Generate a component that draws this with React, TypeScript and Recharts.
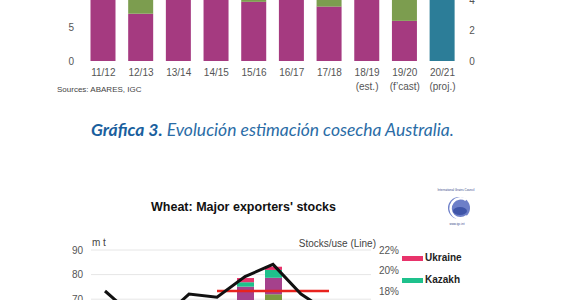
import { ComposedChart, Bar, Line, XAxis, YAxis, CartesianGrid } from 'recharts'

// Gráfica 3 – cosecha Australia (m t), top of the chart is cut off in the picture
const seasons    = ['11/12', '12/13', '13/14', '14/15', '15/16', '16/17', '17/18', '18/19', '19/20', '20/21']
const seasonNote = ['', '', '', '', '', '', '', '(est.)', '(f\u2019cast)', '(proj.)']
const ausMain    = [11.2, 6.95, 10.6, 9.0, 8.7, 12.4, 8.0, 10.2, 5.9, null]
const ausExtra   = [1.2, 3.0, 0.8, 0.9, 1.1, 1.6, 2.2, 0.9, 4.1, null]
const ausProj    = [null, null, null, null, null, null, null, null, null, 10.8]

// Wheat: Major exporters' stocks (bottom of the chart is cut off)
const years      = ['10/11', '11/12', '12/13', '13/14', '14/15', '15/16', '16/17', '17/18', '18/19', '19/20']
const eu         = [null, null, null, null, null, 62.0, 72.0, null, null, null]
const russia     = [null, null, null, null, null, 13.1, 6.7, null, null, null]
const kazakh     = [null, null, null, null, null, 1.8, 3.2, null, null, null]
const ukraine    = [null, null, null, null, null, 1.7, 1.3, null, null, null]
const stocksUse  = [18.0, 15.6, 15.2, 17.7, 17.4, 19.4, 20.6, 17.7, 15.9, 15.5]
const avgRatio   = [null, null, null, null, 18.0, 18.0, 18.0, 18.0, 18.0, null]
const legendItems = [
  { name: 'Ukraine', color: '#e8336b' },
  { name: 'Kazakh',  color: '#1ec18c' },
]

const ausData = seasons.map((s, i) => ({ season: s, main: ausMain[i], extra: ausExtra[i], proj: ausProj[i] }))
const stockData = years.map((y, i) => ({
  year: y, eu: eu[i], russia: russia[i], kazakh: kazakh[i], ukraine: ukraine[i],
  ratio: stocksUse[i], avg: avgRatio[i],
}))

const font = '"Liberation Sans", Arial, sans-serif'
const axisTick = { fontSize: 10, fill: '#555' }

const SeasonTick = (props: any) => {
  const { x, y, payload } = props
  const note = seasonNote[seasons.indexOf(payload.value)]
  return (
    <text x={x} y={y} textAnchor="middle" fontSize={10} fill="#555">
      <tspan x={x} dy={15.3}>{payload.value}</tspan>
      {note && <tspan x={x} dy={13.3}>{note}</tspan>}
    </text>
  )
}

const abs = (left: number, top: number, extra: any = {}) => ({ position: 'absolute' as const, left, top, whiteSpace: 'nowrap' as const, ...extra })

export default function App() {
  return (
    <div style={{ position: 'absolute', left: 0, top: 0, width: 563, height: 300, overflow: 'hidden', background: '#fff', fontFamily: font }}>
      <div style={abs(0, -100)}>
        <ComposedChart width={563} height={200} data={ausData} margin={{ top: 25, right: 72, bottom: 4, left: 25 }} barSize={25}>
          <XAxis dataKey="season" axisLine={false} tickLine={false} tickSize={0} tickMargin={0} height={35} interval={0} tick={<SeasonTick />} />
          <YAxis yAxisId="l" domain={[0, 20]} ticks={[0, 5]} width={59.5} axisLine={false} tickLine={false} tickMargin={4.5} tick={axisTick} />
          <YAxis yAxisId="r" orientation="right" domain={[0, 9]} ticks={[0, 2, 4]} width={29.7} allowDataOverflow axisLine={false} tickLine={false} tick={axisTick} />
          <Bar yAxisId="l" dataKey="main"  stackId="a" fill="#a53a80" isAnimationActive={false} />
          <Bar yAxisId="l" dataKey="extra" stackId="a" fill="#7c9d4f" isAnimationActive={false} />
          <Bar yAxisId="l" dataKey="proj"  stackId="a" fill="#2c7d98" isAnimationActive={false} />
          <Line yAxisId="r" dataKey="extra" hide isAnimationActive={false} />
        </ComposedChart>
      </div>
      <div style={abs(57, 85, { fontSize: 8, lineHeight: '10px', color: '#444' })}>Sources: ABARES, IGC</div>

      <div style={abs(91, 120, { fontFamily: 'Lato, "Open Sans", sans-serif', fontStyle: 'italic', fontSize: 17.5, lineHeight: '20px', color: '#2a6ca6' })}>
        <b style={{ color: '#1a5f9e' }}>Gráfica 3.</b> Evolución estimación cosecha Australia.
      </div>

      <div style={abs(100, 199, { width: 287, textAlign: 'center', fontSize: 12.5, fontWeight: 'bold', lineHeight: '16px', color: '#111' })}>
        Wheat: Major exporters' stocks
      </div>
      <svg style={abs(436, 186)} width={44} height={42}>
        <text x={20} y={5} fontSize={3} textAnchor="middle" fill="#3a4a8a">International Grains Council</text>
        <circle cx={23} cy={22} r={11} fill="#6d7fc8" />
        <path d="M 30 14 A 10 10 0 1 0 31 30" fill="none" stroke="#fff" strokeWidth={2.5} />
        <ellipse cx={24} cy={25} rx={7} ry={4} fill="#3f55a8" />
        <text x={21} y={39} fontSize={3} textAnchor="middle" fill="#3a4a8a">www.igc.int</text>
      </svg>

      <div style={abs(0, 220)}>
        <ComposedChart width={563} height={160} data={stockData} margin={{ top: 30, right: 162, bottom: 7, left: 61 }} barSize={17}>
          <CartesianGrid yAxisId="l" vertical={false} stroke="#e6e6e6" />
          <XAxis dataKey="year" hide />
          <YAxis yAxisId="l" domain={[40, 90]} ticks={[40, 50, 60, 70, 80, 90]} width={30} allowDataOverflow axisLine={false} tickLine={false} tick={axisTick} />
          <YAxis yAxisId="r" orientation="right" domain={[10, 22]} ticks={[10, 12, 14, 16, 18, 20, 22]} tickFormatter={v => `${v}%`} width={30} allowDataOverflow axisLine={false} tickLine={false} tick={axisTick} />
          <Bar yAxisId="l" dataKey="eu"      stackId="s" fill="#7d9a40" isAnimationActive={false} />
          <Bar yAxisId="l" dataKey="russia"  stackId="s" fill="#a5418c" isAnimationActive={false} />
          <Bar yAxisId="l" dataKey="kazakh"  stackId="s" fill="#1ec18c" isAnimationActive={false} />
          <Bar yAxisId="l" dataKey="ukraine" stackId="s" fill="#e8336b" isAnimationActive={false} />
          <Line yAxisId="r" dataKey="avg"   type="linear" stroke="#e8231e" strokeWidth={2.5} dot={false} isAnimationActive={false} />
          <Line yAxisId="r" dataKey="ratio" type="linear" stroke="#111" strokeWidth={3} dot={false} isAnimationActive={false} />
        </ComposedChart>
      </div>
      <div style={abs(92, 237, { fontSize: 10, lineHeight: '12px', color: '#444' })}>m t</div>
      <div style={abs(250, 238, { width: 126, textAlign: 'right', fontSize: 10, lineHeight: '12px', color: '#444' })}>Stocks/use (Line)</div>
      {legendItems.map((it, i) => (
        <div key={it.name} style={abs(402, 252 + i * 22, { display: 'flex', alignItems: 'center', fontSize: 10, lineHeight: '12px', fontWeight: 'bold', color: '#222' })}>
          <span style={{ display: 'inline-block', width: 21, height: 5, background: it.color, marginRight: 2 }} />
          {it.name}
        </div>
      ))}
    </div>
  )
}
